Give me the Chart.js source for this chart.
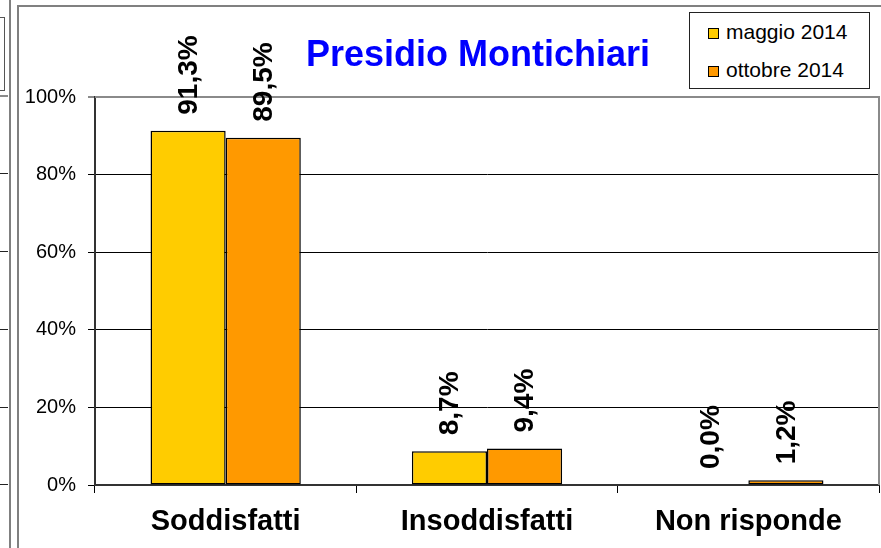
<!DOCTYPE html>
<html lang="it">
<head>
<meta charset="utf-8">
<title>Presidio Montichiari</title>
<script src="https://cdn.jsdelivr.net/npm/chart.js@4.4.1/dist/chart.umd.min.js"></script>
<style>
    html, body { margin: 0; padding: 0; background: #fff; }
    body { width: 881px; height: 548px; position: relative; overflow: hidden; font-family: "Liberation Sans", Arial, sans-serif; }
    #chart { position: absolute; left: 0; top: 0; }
    .deco { position: absolute; }
    #frame { left: 17px; top: 5px; width: 900px; height: 541px; border-left: 2px solid #808080; border-top: 2px solid #808080; border-bottom: 1px solid #e6e6e6; }
    #title { position: absolute; left: 478px; top: 36px; transform: translateX(-50%); white-space: nowrap;
             font: bold 36px/36px "Liberation Sans", Arial, sans-serif; color: #0000ff; }
    #legend { position: absolute; left: 689px; top: 12px; width: 179px; height: 75px; border: 1px solid #222; background: #fff; }
    .lg-item { position: absolute; left: 0; white-space: nowrap; }
    .lg-swatch { position: absolute; left: 18px; width: 9px; height: 9px; border: 1px solid #000; }
    .lg-text { position: absolute; left: 36px; font: 21px/21px "Liberation Sans", Arial, sans-serif; color: #000; }
</style>
</head>
<body>
<!-- bits of the neighbouring chart cut off on the left -->
<div class="deco" style="left:9px;top:0;width:2px;height:548px;background:#808080"></div>
<div class="deco" style="left:-2px;top:17px;width:5px;height:72px;border:1px solid #555"></div>
<div class="deco" style="left:0;top:95px;width:8px;height:2px;background:#8a8a8a"></div>
<div class="deco" style="left:0;top:173px;width:8px;height:1px;background:#222"></div>
<div class="deco" style="left:0;top:251px;width:8px;height:1px;background:#222"></div>
<div class="deco" style="left:0;top:329px;width:8px;height:1px;background:#222"></div>
<div class="deco" style="left:0;top:407px;width:8px;height:1px;background:#222"></div>
<div class="deco" style="left:0;top:484px;width:8px;height:1px;background:#222"></div>

<div class="deco" id="frame"></div>
<canvas id="chart" width="881" height="548"></canvas>
<div id="title"></div>
<div id="legend"></div>

<script>
const chartTitle = 'Presidio Montichiari';
const categories = ['Soddisfatti', 'Insoddisfatti', 'Non risponde'];
const seriesNames = ['maggio 2014', 'ottobre 2014'];
const maggio2014 = [91.3, 8.7, 0.0];
const ottobre2014 = [89.5, 9.4, 1.2];
const yTickLabels = ['0%', '20%', '40%', '60%', '80%', '100%'];
const seriesColors = ['#ffcc00', '#ff9900'];

const FONT = '"Liberation Sans", Arial, sans-serif';

// Title and legend as html
document.getElementById('title').textContent = chartTitle;
const legend = document.getElementById('legend');
seriesNames.forEach((name, i) => {
    const item = document.createElement('div');
    item.className = 'lg-item';
    item.style.top = (i === 0 ? 0 : 38) + 'px';
    item.innerHTML = `
        <span class="lg-swatch" style="top:15px;background:${seriesColors[i]}"></span>
        <span class="lg-text" style="top:8px">${name}</span>
    `;
    legend.appendChild(item);
});

// Gray border on top/right of plot area
const plotBorder = {
    id: 'plotBorder',
    beforeDatasetsDraw(chart) {
        const { ctx, chartArea } = chart;
        ctx.save();
        ctx.strokeStyle = '#8a8a8a';
        ctx.lineWidth = 2;
        ctx.beginPath();
        ctx.moveTo(chartArea.left, chartArea.top);
        ctx.lineTo(chartArea.right, chartArea.top);
        ctx.lineTo(chartArea.right, chartArea.bottom);
        ctx.stroke();
        ctx.restore();
    }
};

// Rotated value labels above each bar
const valueLabels = {
    id: 'valueLabels',
    afterDatasetsDraw(chart) {
        const ctx = chart.ctx;
        ctx.save();
        ctx.font = `bold 28px ${FONT}`;
        ctx.fillStyle = '#000';
        ctx.textAlign = 'left';
        ctx.textBaseline = 'middle';
        chart.data.datasets.forEach((ds, di) => {
            chart.getDatasetMeta(di).data.forEach((bar, i) => {
                const text = ds.data[i].toFixed(1).replace('.', ',') + '%';
                ctx.save();
                ctx.translate(bar.x + 1, bar.y - 16);
                ctx.rotate(-Math.PI / 2);
                ctx.fillText(text, 0, 0);
                ctx.restore();
            });
        });
        ctx.restore();
    }
};

new Chart(document.getElementById('chart').getContext('2d'), {
    type: 'bar',
    data: {
        labels: categories,
        datasets: [
            {
                label: seriesNames[0],
                data: maggio2014,
                backgroundColor: seriesColors[0],
                borderColor: '#000',
                borderWidth: 1.5,
                borderSkipped: false
            },
            {
                label: seriesNames[1],
                data: ottobre2014,
                backgroundColor: seriesColors[1],
                borderColor: '#000',
                borderWidth: 1.5,
                borderSkipped: false
            }
        ]
    },
    options: {
        responsive: false,
        animation: false,
        devicePixelRatio: 1,
        categoryPercentage: 0.575,
        barPercentage: 1,
        layout: {
            padding: { top: 97, right: 2, bottom: 0, left: 0 }
        },
        plugins: {
            legend: { display: false },
            title: { display: false },
            tooltip: { enabled: false }
        },
        scales: {
            y: {
                min: 0,
                max: 100,
                afterFit(scale) { scale.width = 95; },
                ticks: {
                    stepSize: 20,
                    padding: 12,
                    color: '#000',
                    font: { family: FONT, size: 20 },
                    callback: (value, index) => yTickLabels[index]
                },
                grid: {
                    color: (c) => c.index === yTickLabels.length - 1 ? '#8a8a8a' : '#000',
                    lineWidth: (c) => c.index === yTickLabels.length - 1 ? 2 : 1,
                    tickLength: 7
                },
                border: { color: '#333', width: 2 }
            },
            x: {
                afterFit(scale) { scale.height = 63; },
                ticks: {
                    padding: 12,
                    color: '#000',
                    font: { family: FONT, size: 29, weight: 'bold' }
                },
                grid: {
                    drawOnChartArea: false,
                    drawTicks: true,
                    tickLength: 8,
                    color: '#000'
                },
                border: { color: '#333', width: 2 }
            }
        }
    },
    plugins: [plotBorder, valueLabels]
});
</script>
</body>
</html>
